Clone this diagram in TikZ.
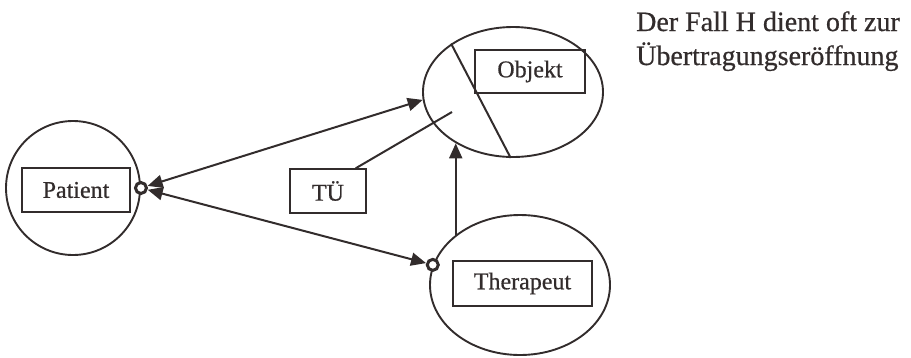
\documentclass[tikz,border=0pt]{standalone}
\usepackage{fontspec}
\setmainfont[FakeBold=0.6,BoldFont={Liberation Serif}]{Liberation Serif}
\usetikzlibrary{arrows.meta,shapes.geometric,calc}
\definecolor{ink}{RGB}{50,44,44}
\tikzset{
  ring/.style={draw=ink, line width=1.9pt, ellipse, inner sep=0pt},
  label box/.style={draw=ink, line width=1.5pt, minimum height=44pt, inner sep=0pt,
    text=ink, font=\fontsize{24}{28}\selectfont},
  link/.style={draw=ink, line width=2pt},
  knob/.style={circle, draw=ink, fill=white, line width=3pt, minimum size=11pt, inner sep=0pt},
  note/.style={text=ink, font=\fontsize{28}{34}\selectfont, anchor=base west, inner sep=0pt},
  >={Triangle[length=15pt,width=13pt]}
}
\begin{document}
\begin{tikzpicture}[x=1pt,y=-1pt]
\useasboundingbox (0,0) rectangle (911,357);

% the three persons / objects
\node[ring, minimum width=134pt, minimum height=134pt] (pat) at (73,188) {};
\node[ring, minimum width=180pt, minimum height=130pt] (obj) at (513,92) {};
\node[ring, minimum width=180pt, minimum height=140pt] (ther) at (520,285) {};

% labels inside
\node[label box, minimum width=108pt] (patl) at (76,190) {Patient};
\node[label box, minimum width=110pt, minimum height=43pt] (objl) at (530,71.5) {Objekt};
\node[label box, minimum width=139pt, minimum height=45pt] (therl) at (522.5,283.5) {Therapeut};
\node[label box, minimum width=76pt] (tue) at (328,191) {TÜ};

% split line through the object
\draw[link] (obj.142) -- (obj.268);

% small open circles on the borders
\node[knob] (pk) at (pat.east) {};
\node[knob] (tk) at (ther.167) {};

% connectors
\draw[link, <->] (pk) -- (obj.185);
\draw[link, <->] (pk) -- (tk);
\coordinate (tuend) at (452,112);
\draw[link] ($(tue.north east)+(-11,0)$) -- (tuend);
\draw[link, ->] (ther.142) -- (ther.142 |- obj.222);

% caption
\node[note] (n1) at (636,31) {Der Fall H dient oft zur};
\node[note] (n2) at (636,65) {Übertragungseröffnung};
\end{tikzpicture}
\end{document}
